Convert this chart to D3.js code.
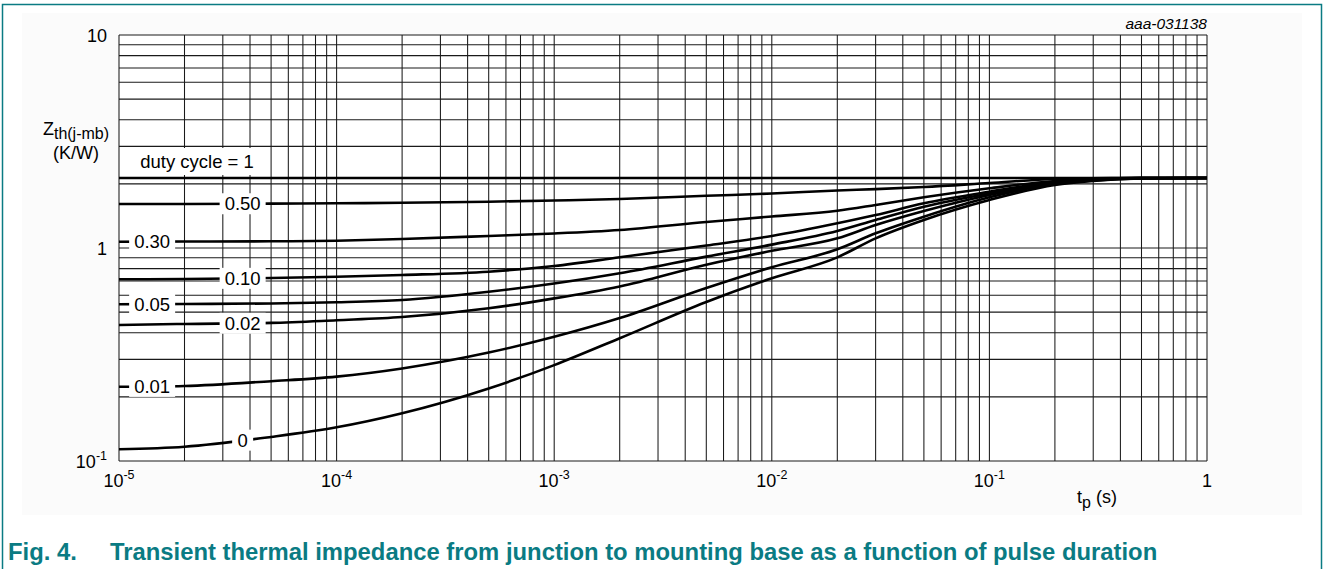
<!DOCTYPE html>
<html><head><meta charset="utf-8">
<script src="https://cdn.jsdelivr.net/npm/d3@7"></script>
<style>
html,body{margin:0;padding:0;background:#fff;}
svg{display:block;font-family:"Liberation Sans",Arial,sans-serif;}
</style></head>
<body>
<svg id="chart" width="1323" height="569"></svg>
<script>
// ---------- data ----------
const tp = [1e-5, 2e-5, 5e-5, 1e-4, 2e-4, 5e-4, 1e-3, 2e-3, 5e-3, 1e-2, 2e-2, 3e-2, 5e-2, 1e-1, 2e-1, 3e-1, 5e-1, 1];
const dutyCycles = ["1", "0.50", "0.30", "0.10", "0.05", "0.02", "0.01", "0"];
const zth_d100 = [2.13, 2.13, 2.13, 2.13, 2.13, 2.13, 2.13, 2.13, 2.13, 2.13, 2.13, 2.13, 2.13, 2.13, 2.13, 2.13, 2.13, 2.13];
const zth_d050 = [1.609, 1.610, 1.615, 1.622, 1.630, 1.650, 1.671, 1.698, 1.758, 1.803, 1.862, 1.890, 1.933, 2.019, 2.109, 2.125, 2.13, 2.13];
const zth_d030 = [1.070, 1.072, 1.075, 1.082, 1.102, 1.139, 1.170, 1.215, 1.325, 1.406, 1.496, 1.592, 1.730, 1.906, 2.064, 2.109, 2.13, 2.13];
const zth_d010 = [0.713, 0.715, 0.723, 0.733, 0.747, 0.774, 0.823, 0.904, 1.027, 1.139, 1.306, 1.428, 1.622, 1.838, 2.041, 2.109, 2.13, 2.13];
const zth_d005 = [0.544, 0.546, 0.549, 0.556, 0.570, 0.623, 0.681, 0.761, 0.911, 1.037, 1.202, 1.354, 1.563, 1.806, 2.030, 2.097, 2.13, 2.13];
const zth_d002 = [0.435, 0.440, 0.445, 0.458, 0.474, 0.521, 0.580, 0.660, 0.835, 0.970, 1.110, 1.282, 1.492, 1.774, 2.019, 2.086, 2.13, 2.13];
const zth_d001 = [0.223, 0.225, 0.237, 0.249, 0.272, 0.323, 0.383, 0.469, 0.649, 0.812, 0.986, 1.172, 1.403, 1.730, 1.997, 2.075, 2.12, 2.13];
const zth_d000 = [0.1135, 0.1167, 0.1297, 0.1439, 0.1675, 0.219, 0.282, 0.377, 0.558, 0.721, 0.904, 1.110, 1.354, 1.680, 1.976, 2.064, 2.12, 2.13];
const labelT = [null, 3.7e-5, 1.42e-5, 3.7e-5, 1.42e-5, 3.7e-5, 1.42e-5, 3.7e-5];
const xTickExp = [-5, -4, -3, -2, -1, 0];
const yTickExp = [1, 0, -1];
const figNumber = "Fig. 4.";
const figTitle = "Transient thermal impedance from junction to mounting base as a function of pulse duration";
const docId = "aaa-031138";

const seriesValues = [zth_d100, zth_d050, zth_d030, zth_d010, zth_d005, zth_d002, zth_d001, zth_d000];

// ---------- layout ----------
const svg = d3.select("#chart");
const teal = "#0a7b83";
const x = d3.scaleLog().domain([1e-5, 1]).range([119, 1207]);
const y = d3.scaleLog().domain([0.1, 10]).range([461, 35]);

// frame & panel
svg.append("rect").attr("x", 22).attr("y", 13).attr("width", 1280).attr("height", 502).attr("fill", "#fbfbfb");
svg.append("path").attr("d", `M2.5,569 V4.5 H1321.5 V569`).attr("fill", "none").attr("stroke", teal).attr("stroke-width", 1.5);
svg.append("rect").attr("x", 119).attr("y", 35).attr("width", 1088).attr("height", 426).attr("fill", "#fff");

// grid
const xGrid = [];
for (let e = -5; e < 0; e++) for (let k = 1; k <= 9; k++) xGrid.push(k * Math.pow(10, e));
xGrid.push(1);
const yGrid = [];
for (let e = -1; e < 1; e++) for (let k = 1; k <= 9; k++) yGrid.push(k * Math.pow(10, e));
yGrid.push(10);
const grid = svg.append("g").attr("stroke", "#1a1a1a").attr("stroke-width", 1.05);
grid.selectAll("line.v").data(xGrid).join("line").attr("class", "v")
  .attr("x1", d => x(d)).attr("x2", d => x(d)).attr("y1", y(10)).attr("y2", y(0.1));
grid.selectAll("line.h").data(yGrid).join("line").attr("class", "h")
  .attr("y1", d => y(d)).attr("y2", d => y(d)).attr("x1", x(1e-5)).attr("x2", x(1));

// curves
const line = d3.line().x(d => x(d[0])).y(d => y(d[1])).curve(d3.curveMonotoneX);
svg.append("g").selectAll("path").data(seriesValues).join("path")
  .attr("d", vals => line(tp.map((t, i) => [t, vals[i]])))
  .attr("fill", "none").attr("stroke", "#000").attr("stroke-width", 2.6);

// curve labels
function valueAt(vals, t) {
  const lt = Math.log10(t);
  for (let i = 0; i < tp.length - 1; i++) {
    const a = Math.log10(tp[i]), b = Math.log10(tp[i + 1]);
    if (lt >= a && lt <= b) {
      const f = (lt - a) / (b - a);
      return Math.pow(10, Math.log10(vals[i]) + f * (Math.log10(vals[i + 1]) - Math.log10(vals[i])));
    }
  }
  return vals[0];
}
const lab = svg.append("g").attr("font-size", 18.5);
dutyCycles.forEach((dc, i) => {
  if (labelT[i] == null) return;
  const cx = x(labelT[i]), cy = y(valueAt(seriesValues[i], labelT[i]));
  const w = dc.length > 1 ? 46 : 21;
  lab.append("rect").attr("x", cx - w / 2).attr("y", cy - 10.5).attr("width", w).attr("height", 21).attr("fill", "#fff");
  lab.append("text").attr("x", cx).attr("y", cy).attr("dy", "0.36em").attr("text-anchor", "middle").text(dc);
});
// duty cycle = 1 label
lab.append("rect").attr("x", 133).attr("y", 148).attr("width", 130).attr("height", 27).attr("fill", "#fff");
lab.append("text").attr("x", 197).attr("y", 167.5).attr("text-anchor", "middle").text("duty cycle = " + dutyCycles[0]);

// axis tick labels
const tl = svg.append("g").attr("font-size", 18).attr("fill", "#000");
xTickExp.forEach(e => {
  const t = tl.append("text").attr("x", x(Math.pow(10, e))).attr("y", 487).attr("text-anchor", "middle");
  if (e === 0) t.text("1");
  else {
    t.append("tspan").text("10");
    t.append("tspan").attr("font-size", 12.5).attr("dy", -8).text(String(e));
  }
});
yTickExp.forEach(e => {
  const t = tl.append("text").attr("x", 107).attr("y", y(Math.pow(10, e)) + 6.5).attr("text-anchor", "end");
  if (e === 1) t.text("10");
  else if (e === 0) t.text("1");
  else {
    t.append("tspan").text("10");
    t.append("tspan").attr("font-size", 12.5).attr("dy", -8).text(String(e));
  }
});

// axis titles
const yt = tl.append("text").attr("x", 76).attr("y", 135).attr("text-anchor", "middle");
yt.append("tspan").text("Z");
yt.append("tspan").attr("font-size", 16).attr("dy", 4).text("th(j-mb)");
tl.append("text").attr("x", 76).attr("y", 159).attr("text-anchor", "middle").text("(K/W)");
const xt = tl.append("text").attr("x", 1077).attr("y", 503);
xt.append("tspan").text("t");
xt.append("tspan").attr("font-size", 16).attr("dy", 5).text("p");
xt.append("tspan").attr("dy", -5).text(" (s)");

// doc id
svg.append("text").attr("x", 1207).attr("y", 29).attr("text-anchor", "end")
  .attr("font-size", 15.5).attr("font-style", "italic").text(docId);

// caption
const cap = svg.append("g").attr("fill", teal).attr("font-weight", "bold").attr("font-size", 22);
cap.append("text").attr("x", 8).attr("y", 560).text(figNumber);
const ct = cap.append("text").attr("x", 110).attr("y", 560).text(figTitle);
const wNow = ct.node().getComputedTextLength();
const fs = 22 * 1048 / wNow;
ct.attr("font-size", fs);
cap.select("text").attr("font-size", fs);
</script>
</body></html>
